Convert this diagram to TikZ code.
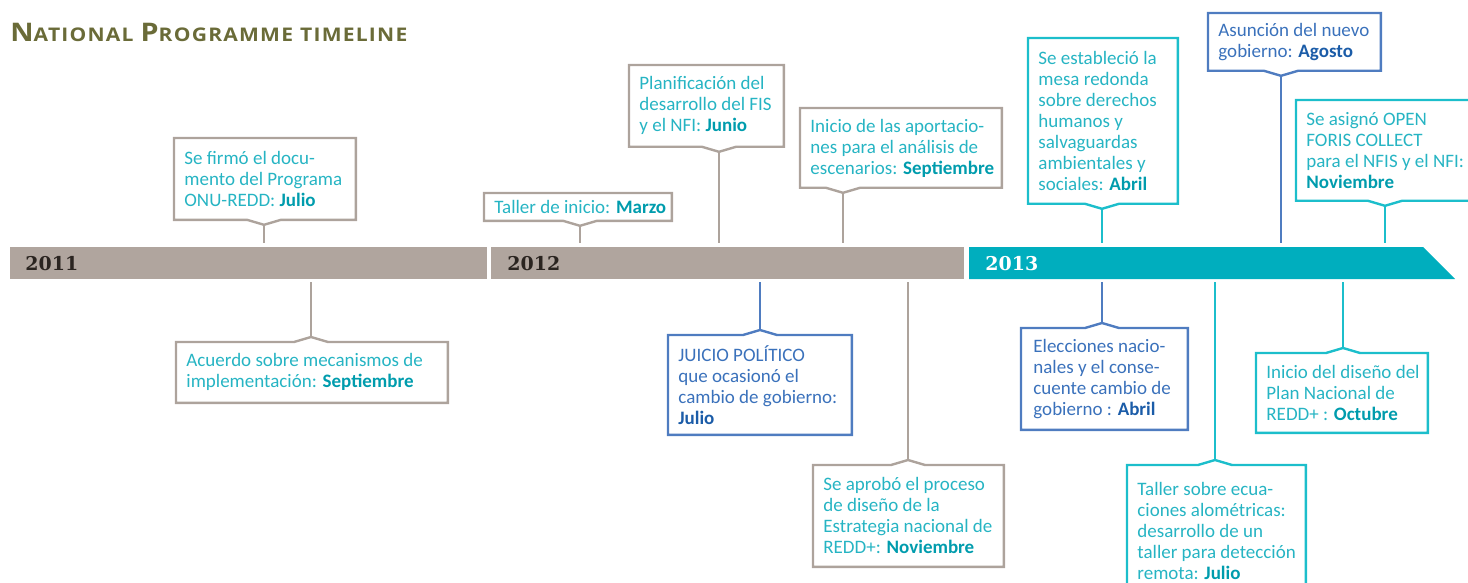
\documentclass[tikz,border=0pt]{standalone}
\usepackage{fontspec}
\setmainfont{Carlito}
\newfontfamily\yearfont{DejaVu Serif}
\newfontfamily\titlefont{Open Sans}[FakeStretch=1.12, LetterSpace=6.5]
\usetikzlibrary{calc}
\definecolor{olive}{HTML}{6A6B38}
\definecolor{greybar}{HTML}{B0A59E}
\definecolor{greyline}{HTML}{ADA39C}
\definecolor{tealbar}{HTML}{00AEBE}
\definecolor{tealline}{HTML}{1CBECB}
\definecolor{tealtxt}{HTML}{26B4C3}
\definecolor{tealbold}{HTML}{009CAD}
\definecolor{blueline}{HTML}{4F7CC0}
\definecolor{bluetxt}{HTML}{3A71BB}
\definecolor{bluebold}{HTML}{1B5CA8}
\definecolor{yeardark}{HTML}{2A2420}
\newcommand\smc[2]{{\fontsize{12.8}{13}\selectfont #1}{\fontsize{9.4}{10}\selectfont #2}}
\newcommand\tb[1]{\textcolor{tealbold}{\textbf{#1}}}
\newcommand\bb[1]{\textcolor{bluebold}{\textbf{#1}}}
\newcommand\calloutup[3]{%
  \draw[#3, line width=1.2pt, line join=miter] (#1.south west) -- (#1.north west) -- (#1.north east) -- (#1.south east)
    -- ($(#2 |- #1.south)+(17,0)$) -- ($(#2 |- #1.south)+(0,5)$) -- ($(#2 |- #1.south)+(-17,0)$) -- cycle;
  \draw[#3, line width=1pt] ($(#2 |- #1.south)+(0,5)$) -- (#2);}
\newcommand\calloutdown[3]{%
  \draw[#3, line width=1.2pt, line join=miter] (#1.north west) -- (#1.south west) -- (#1.south east) -- (#1.north east)
    -- ($(#2 |- #1.north)+(17,0)$) -- ($(#2 |- #1.north)+(0,-5)$) -- ($(#2 |- #1.north)+(-17,0)$) -- cycle;
  \draw[#3, line width=1pt] ($(#2 |- #1.north)+(0,-5)$) -- (#2);}
\begin{document}
\begin{tikzpicture}[x=0.5pt,y=-0.5pt,
  frame/.style={anchor=north west, inner sep=0pt},
  ev/.style={anchor=west, align=left, inner sep=0pt,
    font=\fontsize{9.5}{10.5}\selectfont},
  tev/.style={ev, text=tealtxt},
  bev/.style={ev, text=bluetxt},
  year/.style={anchor=west, inner sep=0pt, font=\yearfont\bfseries\fontsize{9.5}{10}\selectfont}
]
\useasboundingbox (0,0) rectangle (1468,583);

% title
\node[anchor=base west, inner sep=0pt, text=olive, font=\titlefont\bfseries] (title) at (10,42)
  {\smc{N}{ATIONAL} \smc{P}{ROGRAMME} {\fontsize{9.4}{10}\selectfont TIMELINE}};

% bars
\fill[greybar] (10,247) rectangle (487,279);
\fill[greybar] (491,247) rectangle (964,279);
\fill[tealbar] (969,247) -- (1423,247) -- (1455,279) -- (969,279) -- cycle;
\node[year, text=yeardark] (y2011) at (25,264) {2011};
\node[year, text=yeardark] (y2012) at (507,264) {2012};
\node[year, text=white] (y2013) at (985,264) {2013};

% tick coordinates on the bar
\coordinate (t1) at (264,243);
\coordinate (t2) at (311,282);
\coordinate (t3) at (580,243);
\coordinate (t4) at (719,243);
\coordinate (t5) at (843,243);
\coordinate (t6) at (760,282);
\coordinate (t7) at (908,282);
\coordinate (t8) at (1102,243);
\coordinate (t9) at (1281,243);
\coordinate (t10) at (1385,243);
\coordinate (t11) at (1102,282);
\coordinate (t12) at (1215,282);
\coordinate (t13) at (1343,282);

% box frames
\node[frame, minimum width=90.5pt, minimum height=40.5pt] (b1) at (174,138) {};
\node[frame, minimum width=135.5pt, minimum height=30pt] (b2) at (176,342) {};
\node[frame, minimum width=93.5pt, minimum height=13.5pt] (b3) at (484,193) {};
\node[frame, minimum width=77pt, minimum height=40.5pt] (b4) at (629,65) {};
\node[frame, minimum width=100.5pt, minimum height=39.5pt] (b5) at (800,108) {};
\node[frame, minimum width=91.5pt, minimum height=49.5pt] (b6) at (668,335) {};
\node[frame, minimum width=95pt, minimum height=50.5pt] (b7) at (813,465) {};
\node[frame, minimum width=74.5pt, minimum height=82.5pt] (b8) at (1028,38) {};
\node[frame, minimum width=86pt, minimum height=28.5pt] (b9) at (1208,13) {};
\node[frame, minimum width=92pt, minimum height=50pt] (b10) at (1296,100) {};
\node[frame, minimum width=83pt, minimum height=50.5pt] (b11) at (1021,328) {};
\node[frame, minimum width=89pt, minimum height=67pt] (b12) at (1127,465) {};
\node[frame, minimum width=85.5pt, minimum height=39.5pt] (b13) at (1256,353) {};

% texts
\node[tev] (x1) at ($(b1.west)+(10,0)$)
  {Se firmó el docu-\\mento del Programa\\ONU-REDD: \tb{Julio}};
\node[tev] (x2) at ($(b2.west)+(10,0)$)
  {Acuerdo sobre mecanismos de\\implementación: \tb{Septiembre}};
\node[tev] (x3) at ($(b3.west)+(10,0)$)
  {Taller de inicio: \tb{Marzo}};
\node[tev] (x4) at ($(b4.west)+(10,0)$)
  {Planificación del\\desarrollo del FIS\\y el NFI: \tb{Junio}};
\node[tev] (x5) at ($(b5.west)+(10,0)$)
  {Inicio de las aportacio-\\nes para el análisis de\\escenarios: \tb{Septiembre}};
\node[bev] (x6) at ($(b6.west)+(10,0)$)
  {JUICIO POLÍTICO\\que ocasionó el\\cambio de gobierno:\\\bb{Julio}};
\node[tev] (x7) at ($(b7.west)+(10,0)$)
  {Se aprobó el proceso\\de diseño de la\\Estrategia nacional de\\REDD+: \tb{Noviembre}};
\node[tev] (x8) at ($(b8.west)+(10,0)$)
  {Se estableció la\\mesa redonda\\sobre derechos\\humanos y\\salvaguardas\\ambientales y\\sociales: \tb{Abril}};
\node[bev] (x9) at ($(b9.west)+(10,0)$)
  {Asunción del nuevo\\gobierno: \bb{Agosto}};
\node[tev] (x10) at ($(b10.west)+(10,0)$)
  {Se asignó OPEN\\FORIS COLLECT\\para el NFIS y el NFI:\\\tb{Noviembre}};
\node[bev] (x11) at ($(b11.west)+(12,0)$)
  {Elecciones nacio-\\nales y el conse-\\cuente cambio de\\gobierno : \bb{Abril}};
\node[tev, anchor=north west] (x12) at ($(b12.north west)+(10,17)$)
  {Taller sobre ecua-\\ciones alométricas:\\desarrollo de un\\taller para detección\\remota: \tb{Julio}};
\node[tev] (x13) at ($(b13.west)+(10,0)$)
  {Inicio del diseño del\\Plan Nacional de\\REDD+ : \tb{Octubre}};

% callout borders and connectors
\calloutup{b1}{t1}{greyline}
\calloutdown{b2}{t2}{greyline}
\calloutup{b3}{t3}{greyline}
\calloutup{b4}{t4}{greyline}
\calloutup{b5}{t5}{greyline}
\calloutdown{b6}{t6}{blueline}
\calloutdown{b7}{t7}{greyline}
\calloutup{b8}{t8}{tealline}
\calloutup{b9}{t9}{blueline}
\calloutup{b10}{t10}{tealline}
\calloutdown{b11}{t11}{blueline}
\calloutdown{b12}{t12}{tealline}
\calloutdown{b13}{t13}{tealline}
\end{tikzpicture}
\end{document}
